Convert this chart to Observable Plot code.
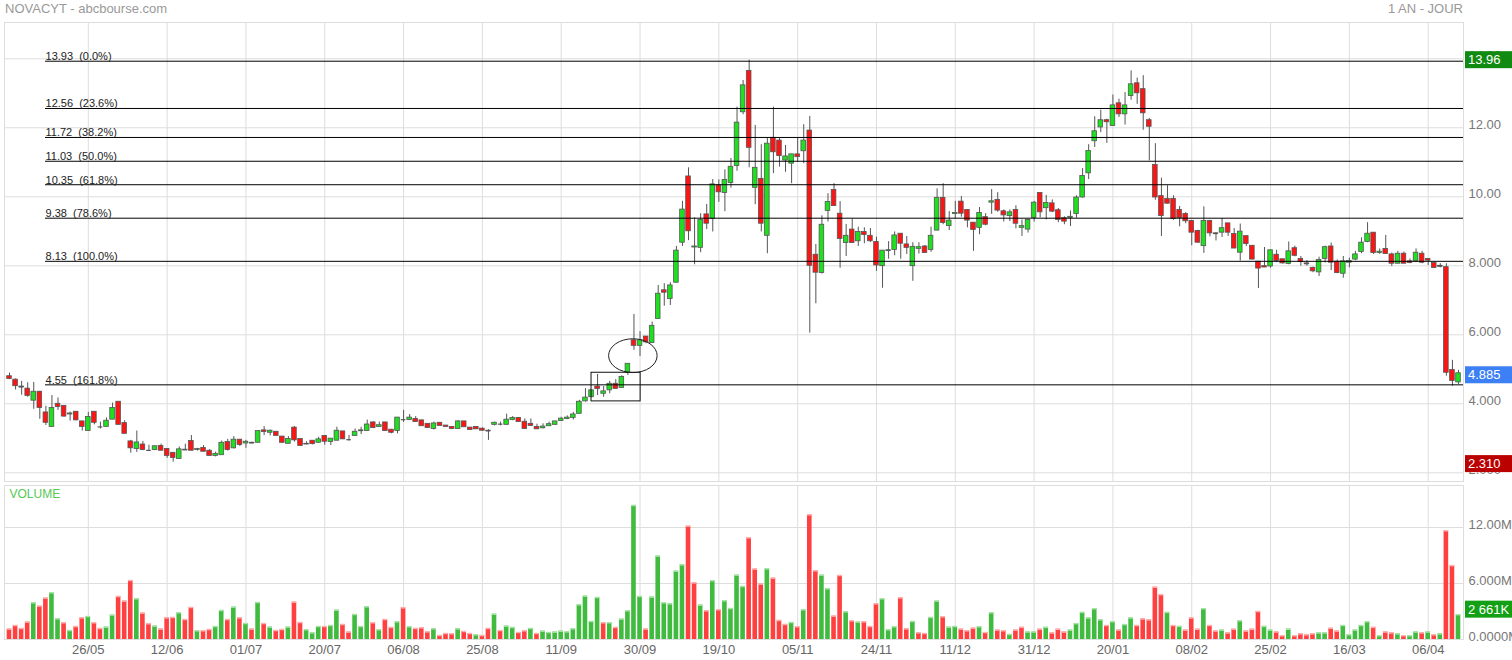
<!DOCTYPE html>
<html><head><meta charset="utf-8">
<script src="https://cdn.jsdelivr.net/npm/d3@7"></script>
<script src="https://cdn.jsdelivr.net/npm/@observablehq/plot@0.6"></script>
<style>
html,body{margin:0;padding:0;background:#fff;}
#wrap{position:relative;width:1512px;height:660px;overflow:hidden;font-family:Arial,"Liberation Sans",sans-serif;}
#wrap svg{position:absolute;left:0;}
#wrap svg text{white-space:pre;}
.title{position:absolute;top:1px;font-size:13px;color:#999;}
</style></head><body>
<div id="wrap">
 <div class="title" style="left:5px">NOVACYT - abcbourse.com</div>
 <div class="title" style="right:49px">1 AN - JOUR</div>
</div>
<script>
// ---- DATA ----
const tickIdx = [13,26,39,52,65,78,91,104,117,130,143,156,169,182,195,208,221,234];
const tickLabels = ["26/05","12/06","01/07","20/07","06/08","25/08","11/09","30/09","19/10","05/11","24/11","11/12","31/12","20/01","08/02","25/02","16/03","06/04"];

const open = [4.80,4.70,4.48,4.44,4.09,4.35,3.75,3.33,4.00,3.94,
3.69,3.77,3.49,3.21,3.77,3.33,3.33,3.54,4.06,3.44,
2.91,2.69,2.82,2.65,2.66,2.78,2.69,2.58,2.40,2.66,
2.92,2.66,2.72,2.64,2.49,2.51,2.89,2.71,2.96,2.85,
2.86,2.87,3.23,3.16,3.19,3.05,2.84,3.31,2.98,2.84,
2.93,2.87,3.07,2.89,2.93,3.20,2.96,3.07,3.22,3.21,
3.46,3.33,3.46,3.25,3.21,3.54,3.53,3.56,3.52,3.42,
3.27,3.45,3.37,3.33,3.27,3.49,3.31,3.33,3.28,3.22,
3.39,3.41,3.39,3.53,3.59,3.48,3.42,3.33,3.29,3.35,
3.39,3.50,3.56,3.59,3.71,4.07,4.19,4.50,4.29,4.39,
4.58,4.46,4.90,5.84,5.68,5.95,5.76,6.46,7.29,7.04,
7.51,8.67,10.59,8.53,8.52,9.49,9.36,10.33,10.11,10.40,
10.89,12.45,13.65,10.26,10.52,8.87,11.71,11.63,11.05,10.96,
11.23,11.32,11.92,8.32,7.79,9.59,10.20,9.51,8.66,9.05,
8.71,8.98,8.87,8.69,7.99,8.44,8.46,8.93,8.62,7.99,
8.49,8.56,8.46,9.02,9.97,9.15,9.50,9.86,9.62,9.25,
9.10,9.41,9.83,9.91,9.58,9.44,9.62,9.10,9.05,9.39,
10.11,9.67,9.81,9.61,9.38,9.39,9.50,9.98,10.68,11.61,
12.01,12.22,12.05,12.71,12.39,12.92,13.29,13.12,12.22,10.92,
10.02,9.94,9.94,9.62,9.50,9.30,9.01,8.57,9.30,8.94,
8.96,9.23,8.92,8.38,8.86,8.58,8.12,7.99,7.98,8.32,
8.19,8.05,8.51,8.20,8.07,7.94,7.81,8.20,8.56,8.12,
7.77,8.09,8.18,8.40,8.69,8.96,8.37,8.49,8.33,8.06,
8.35,8.13,8.13,8.35,8.20,8.08,7.98,7.96,4.98,4.62];

const high = [4.89,4.72,4.65,4.61,4.62,4.36,3.93,4.24,4.17,3.94,
3.76,3.77,3.49,3.75,3.77,3.47,3.59,4.02,4.06,3.51,
2.94,3.21,2.91,2.80,2.77,2.83,2.69,2.58,2.75,2.83,
3.08,2.71,2.79,2.67,2.60,2.92,2.97,3.05,2.96,2.94,
2.89,3.21,3.34,3.24,3.19,3.05,3.05,3.34,2.98,2.90,
2.93,3.03,3.07,2.99,3.32,3.20,3.08,3.27,3.32,3.53,
3.48,3.47,3.46,3.25,3.60,3.81,3.69,3.63,3.52,3.42,
3.47,3.45,3.37,3.33,3.51,3.49,3.31,3.33,3.30,3.25,
3.47,3.47,3.70,3.63,3.59,3.56,3.56,3.41,3.42,3.47,
3.49,3.61,3.65,3.75,4.10,4.44,4.39,4.85,4.50,4.65,
4.70,4.81,5.16,6.59,6.09,5.95,6.37,7.43,7.48,7.51,
8.56,9.87,10.84,9.39,9.51,9.78,10.50,10.49,10.78,11.11,
12.60,13.37,13.96,12.07,11.51,11.71,12.60,11.70,11.49,11.23,
11.70,12.09,12.33,8.62,9.45,10.09,10.38,9.86,9.20,9.35,
9.12,9.10,9.08,8.83,8.44,8.70,8.98,8.93,8.85,8.67,
8.67,8.59,9.12,10.23,10.38,9.57,9.87,10.01,9.62,9.25,
9.69,9.51,10.21,10.12,9.62,9.62,9.74,9.33,9.35,9.87,
10.11,10.04,9.91,9.66,9.42,9.59,10.03,10.82,11.51,12.32,
12.51,12.25,12.95,12.83,13.02,13.65,13.44,13.51,12.27,11.54,
10.54,10.32,10.03,9.72,9.54,9.32,9.03,9.71,9.32,8.96,
9.37,9.23,9.08,9.21,8.86,8.58,8.12,8.53,8.45,8.45,
8.19,8.69,8.57,8.27,8.15,7.96,8.25,8.57,8.66,8.17,
8.27,8.22,8.42,8.81,9.25,8.96,8.49,8.88,8.37,8.42,
8.40,8.20,8.49,8.42,8.20,8.10,8.06,8.06,5.26,4.97];

const low = [4.70,4.40,4.25,4.19,3.84,3.55,3.37,3.33,3.81,3.61,
3.50,3.51,3.21,3.21,3.39,3.27,3.33,3.54,3.39,3.13,
2.57,2.59,2.64,2.65,2.64,2.64,2.42,2.31,2.40,2.66,
2.64,2.63,2.61,2.49,2.46,2.51,2.63,2.69,2.76,2.71,
2.85,2.87,3.08,3.07,3.07,2.85,2.84,2.89,2.77,2.81,
2.81,2.87,2.80,2.79,2.93,2.96,2.92,3.07,3.11,3.21,
3.28,3.33,3.21,3.13,3.13,3.46,3.52,3.47,3.35,3.30,
3.24,3.36,3.33,3.27,3.27,3.32,3.24,3.26,3.21,2.94,
3.36,3.36,3.39,3.51,3.47,3.27,3.35,3.26,3.27,3.34,
3.39,3.50,3.54,3.53,3.71,4.05,4.19,4.24,4.19,4.29,
4.43,4.46,4.82,5.55,5.37,5.74,5.76,6.46,6.83,6.85,
7.51,8.56,8.73,8.03,8.38,9.05,8.98,9.84,9.57,10.25,
10.74,12.38,10.84,9.77,8.98,8.35,10.67,10.86,10.71,10.38,
11.00,10.96,6.05,6.90,7.76,9.27,9.73,7.93,8.27,8.66,
8.56,8.64,8.68,7.84,7.35,8.19,8.29,8.19,8.33,7.55,
8.34,8.37,8.39,9.02,9.19,9.02,9.36,9.41,9.10,8.42,
8.90,9.16,9.49,9.55,9.27,9.28,9.07,8.85,8.95,9.27,
9.39,9.33,9.54,9.25,9.19,9.14,9.38,9.96,10.50,11.43,
11.86,11.55,12.05,12.30,12.08,12.80,12.68,11.93,11.04,9.90,
8.85,9.79,9.32,9.13,9.22,8.58,8.65,8.36,8.84,8.72,
8.82,8.85,8.50,8.14,8.56,8.18,7.34,7.95,7.93,8.09,
8.05,8.03,8.26,7.99,7.99,7.80,7.69,8.08,7.86,7.77,
7.64,7.94,8.15,8.35,8.67,8.33,8.33,8.34,7.98,8.06,
8.06,8.06,8.09,8.06,8.01,7.92,7.94,4.80,4.51,4.56];

const close = [4.72,4.51,4.50,4.23,4.35,3.88,3.45,3.88,3.91,3.63,
3.72,3.52,3.33,3.62,3.45,3.33,3.51,3.88,3.39,3.13,
2.71,2.88,2.66,2.65,2.77,2.64,2.49,2.43,2.68,2.67,
2.64,2.69,2.61,2.49,2.55,2.87,2.66,2.96,2.81,2.90,
2.87,3.21,3.18,3.22,3.07,2.87,2.98,2.94,2.78,2.82,
2.83,2.97,2.90,2.99,3.22,2.97,2.96,3.19,3.23,3.40,
3.30,3.38,3.21,3.16,3.60,3.54,3.60,3.47,3.35,3.30,
3.43,3.36,3.33,3.27,3.49,3.32,3.24,3.26,3.22,3.21,
3.45,3.41,3.54,3.59,3.47,3.27,3.36,3.26,3.34,3.41,
3.49,3.57,3.60,3.69,4.06,4.18,4.39,4.43,4.36,4.58,
4.43,4.78,5.16,5.68,5.84,5.78,6.26,7.19,7.22,7.43,
8.44,9.63,9.00,8.56,9.33,9.22,10.36,10.13,10.49,10.87,
12.15,13.23,11.42,10.84,9.22,11.54,11.29,11.18,11.17,11.23,
11.15,11.63,8.00,7.80,9.19,9.85,9.73,8.78,8.87,8.66,
8.98,8.89,8.71,8.01,8.44,8.45,8.88,8.64,8.52,8.55,
8.54,8.37,8.87,9.97,9.24,9.31,9.53,9.51,9.31,9.04,
9.53,9.19,9.87,9.60,9.46,9.55,9.22,9.15,9.33,9.83,
9.55,9.82,9.57,9.33,9.28,9.42,9.98,10.60,11.33,11.90,
12.22,12.16,12.65,12.39,12.65,13.26,13.00,12.42,12.03,9.98,
9.44,9.80,9.36,9.38,9.29,8.96,8.67,9.30,8.94,8.93,
9.09,8.96,8.50,8.99,8.63,8.18,7.92,7.95,8.45,8.14,
8.07,8.42,8.29,8.11,8.05,7.84,8.17,8.54,8.09,7.79,
8.13,8.14,8.33,8.67,8.93,8.37,8.41,8.34,8.06,8.35,
8.06,8.08,8.38,8.09,8.15,7.94,8.00,4.90,4.66,4.885];

// volume in millions
const volume = [1.11,1.5,1.18,1.86,3.93,3.57,4.43,5.0,2.21,1.79,
0.96,1.39,2.32,2.46,1.79,1.18,1.32,2.61,4.61,4.11,
6.32,4.36,2.82,1.68,1.43,1.11,2.32,2.36,2.86,2.14,
3.43,0.93,0.93,1.07,1.39,3.11,2.14,3.46,2.32,1.71,
1.11,3.96,1.71,1.32,0.96,1.07,1.32,4.0,1.82,1.04,
0.71,1.39,1.39,1.5,3.14,1.61,0.79,2.68,1.39,3.5,
1.79,1.04,2.14,1.29,1.89,3.39,1.36,1.18,1.25,0.82,
1.14,0.43,0.64,0.61,1.14,0.86,0.64,0.5,0.43,1.18,
2.71,0.96,1.43,1.29,0.75,0.93,1.18,0.64,0.89,0.75,
0.79,0.89,0.82,1.14,3.71,4.64,1.93,4.5,1.79,1.79,
1.29,2.18,3.07,14.36,4.61,1.11,4.54,8.93,3.93,3.82,
7.32,8.0,12.14,6.07,3.68,3.07,6.29,3.18,4.14,3.32,
6.89,5.68,10.89,7.54,5.93,7.57,6.57,2.04,1.61,1.82,
1.36,3.18,13.36,7.36,6.89,5.43,2.5,6.86,2.96,2.0,
1.86,1.89,1.39,3.82,4.36,1.04,1.36,4.46,1.14,1.93,
0.71,0.64,2.36,4.11,2.43,1.32,1.39,1.11,0.93,1.21,
1.36,0.75,2.86,1.0,0.93,0.54,1.0,1.3,0.8,0.8,
1.1,1.3,0.7,1.1,0.8,1.0,1.7,2.9,2.3,3.3,
2.1,1.5,1.9,1.0,1.6,2.3,1.5,2.2,2.1,5.6,
4.8,2.9,1.5,1.4,1.0,2.3,1.1,3.3,1.5,0.9,
1.0,0.7,1.1,2.0,0.9,1.1,3.0,1.4,1.0,0.8,
0.4,1.1,0.4,0.6,0.5,0.6,0.7,0.7,1.2,0.9,
1.5,0.5,1.0,1.5,1.9,1.3,0.4,0.8,0.7,0.6,
0.4,0.4,0.8,0.7,0.8,0.5,0.6,11.65,7.92,2.661];

const fibValues = [13.93,12.56,11.72,11.03,10.35,9.38,8.13,4.55];
const fibPcts = ["0.0%","23.6%","38.2%","50.0%","61.8%","78.6%","100.0%","161.8%"];
const priceTicks = [2,4,6,8,10,12,14];
const volTicks = [0,6,12];
const volTickLabels = ["0.0000M","6.000M","12.00M"];
const lastClose = 4.885, periodHigh = 13.96, periodLow = 2.310, lastVolume = 2.661, lastVolumeLabel = "2 661K";
// annotations (index / price units)
const annotBox = [{x1: 96.0, x2: 104.1, y1: 4.07, y2: 4.90}];
const annotEllipse = {cx: 102.9, cy: 5.38, rx: 4.0, ry: 0.49};

// ---- CHART ----
const GREEN = "#1ee01e", RED = "#ff1414";
const VGREEN = "#40bb40", VRED = "#ff4040";
const N = open.length;
const xDomain = [-0.825, N - 1 + 0.825];
const candles = d3.range(N).map(i => ({i, o: open[i], h: high[i], l: low[i], c: close[i], up: close[i] >= open[i]}));
const vols = d3.range(N).map(i => ({i, v: volume[i], up: i === 0 ? close[i] >= open[i] : close[i] >= close[i-1]}));
const fibs = fibValues.map((v, k) => ({v, label: `${v.toFixed(2)}  (${fibPcts[k]})`}));
const fibX = 5.94;
const hw = 0.38;
const wrap = document.getElementById("wrap");
const baseStyle = {fontFamily: "Arial, 'Liberation Sans', sans-serif", fontSize: "12px", background: "transparent", overflow: "visible"};

const priceSvg = Plot.plot({
  width: 1512, height: 485,
  marginLeft: 4, marginRight: 49, marginTop: 22, marginBottom: 4,
  x: {domain: xDomain, axis: null},
  y: {domain: [1.748, 15.052], axis: null},
  style: baseStyle,
  marks: [
    Plot.gridX(tickIdx, {stroke: "#ddd", strokeOpacity: 1}),
    Plot.gridY(priceTicks, {stroke: "#ddd", strokeOpacity: 1}),
    Plot.frame({stroke: "#ddd"}),
    Plot.axisY(priceTicks, {anchor: "right", tickSize: 0, tickPadding: 5, tickFormat: d3.format(".4r"), fill: "#777", fontSize: 13, dy: -3}),
    Plot.ruleX(candles, {x: "i", y1: "l", y2: "h", stroke: "#555", strokeWidth: 1}),
    Plot.rect(candles, {x1: d => d.i - hw, x2: d => d.i + hw, y1: "o", y2: "c", fill: d => d.up ? GREEN : RED, stroke: "#555", strokeWidth: 0.8}),
    Plot.ruleY(candles.filter(d => Math.abs(d.o - d.c) < 0.02), {y: d => (d.o + d.c) / 2, x1: d => d.i - hw, x2: d => d.i + hw, stroke: "#555", strokeWidth: 1.2}),
    Plot.ruleY(fibs, {y: "v", x1: fibX, x2: xDomain[1], stroke: "#000", strokeWidth: 1}),
    Plot.text(fibs, {x: fibX, y: "v", text: "label", textAnchor: "start", lineAnchor: "bottom", dy: -1, fontSize: 11, fill: "#222"}),
    Plot.rect(annotBox, {x1: "x1", x2: "x2", y1: "y1", y2: "y2", fill: "none", stroke: "#111", strokeWidth: 1})
  ]
});
priceSvg.style.top = "0px";
wrap.appendChild(priceSvg);

const volSvg = Plot.plot({
  width: 1512, height: 175,
  marginLeft: 4, marginRight: 49, marginTop: 0, marginBottom: 21,
  x: {domain: xDomain, axis: null},
  y: {domain: [0, 16.5], axis: null},
  style: baseStyle,
  marks: [
    Plot.gridX(tickIdx, {stroke: "#ddd", strokeOpacity: 1}),
    Plot.gridY([6, 12], {stroke: "#ddd", strokeOpacity: 1}),
    Plot.frame({stroke: "#ddd"}),
    Plot.rect(vols, {x1: d => d.i - hw, x2: d => d.i + hw, y1: 0, y2: "v", fill: d => d.up ? VGREEN : VRED}),
    Plot.ruleY(vols, {y: "v", x1: d => d.i - hw, x2: d => d.i + hw, stroke: d => d.up ? "#a8e4a8" : "#ffb0b0", strokeWidth: 1.5}),
    Plot.axisX(tickIdx, {anchor: "bottom", tickSize: 0, tickPadding: 5, tickFormat: d => tickLabels[tickIdx.indexOf(d)], fill: "#666", fontSize: 13}),
    Plot.text(volTicks, {x: xDomain[1], y: d => d, text: d => volTickLabels[volTicks.indexOf(d)], dx: 5, dy: -3, textAnchor: "start", fill: "#777", fontSize: 13}),
    Plot.text(["VOLUME"], {frameAnchor: "top-left", dx: 5, dy: 4, fill: "#55c855", fontSize: 12})
  ]
});
volSvg.style.top = "485px";
wrap.appendChild(volSvg);

// ellipse annotation and value badges via Plot's scales
const psx = priceSvg.scale("x"), psy = priceSvg.scale("y");
const ps = d3.select(priceSvg);
ps.append("ellipse")
  .attr("cx", psx.apply(annotEllipse.cx)).attr("cy", psy.apply(annotEllipse.cy))
  .attr("rx", psx.apply(annotEllipse.cx + annotEllipse.rx) - psx.apply(annotEllipse.cx))
  .attr("ry", psy.apply(annotEllipse.cy - annotEllipse.ry) - psy.apply(annotEllipse.cy))
  .attr("fill", "none").attr("stroke", "#222").attr("stroke-width", 1);

function badge(sel, y, label, color) {
  const x0 = 1512 - 49 + 2;
  const g = sel.append("g").attr("text-anchor", "start");
  g.append("rect").attr("x", x0).attr("y", y - 8.5).attr("width", 1512 - x0).attr("height", 17).attr("fill", color);
  g.append("text").attr("x", x0 + 3).attr("y", y).attr("dy", "0.36em").attr("fill", "#fff")
    .attr("text-anchor", "start")
    .attr("font-size", 13).attr("font-family", "Arial, 'Liberation Sans', sans-serif").text(label);
}
badge(ps, psy.apply(periodHigh), periodHigh.toFixed(2), "#118a11");
badge(ps, psy.apply(lastClose) + 2, lastClose.toFixed(3), "#3d7ff5");
badge(ps, psy.apply(periodLow) + 2, periodLow.toFixed(3), "#bb0000");
const vsy = volSvg.scale("y");
badge(d3.select(volSvg), vsy.apply(lastVolume) - 5, lastVolumeLabel, "#14a014");
</script>
</body></html>
